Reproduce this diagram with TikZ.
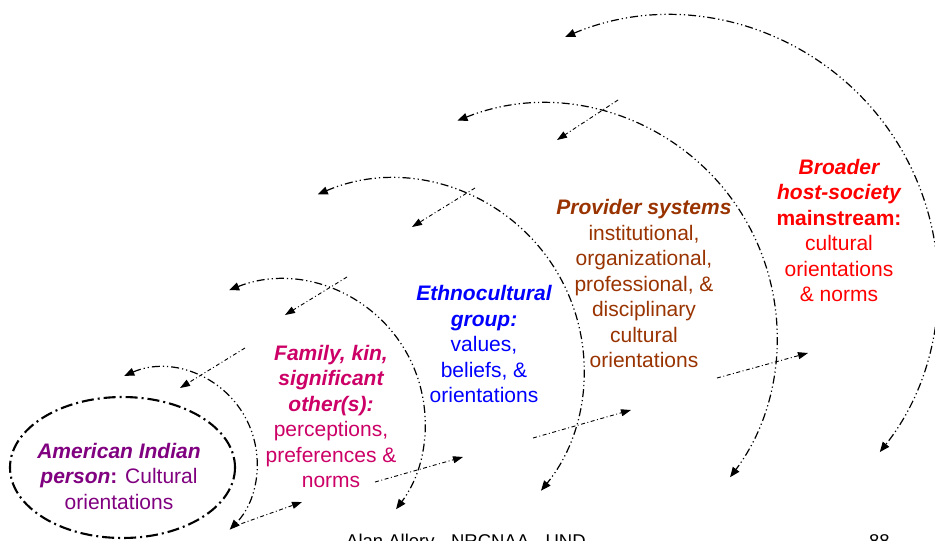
\documentclass[tikz,border=0pt]{standalone}
\usepackage{fontspec}
\setmainfont{Liberation Sans}
\usetikzlibrary{arrows.meta,calc}
\definecolor{amerpurple}{HTML}{800080}
\definecolor{familypink}{HTML}{CC0066}
\definecolor{ethnoblue}{HTML}{0000FF}
\definecolor{providerbrown}{HTML}{993300}
\definecolor{broaderred}{HTML}{FF0000}
\begin{document}
\begin{tikzpicture}[x=1pt,y=-1pt,
  ring/.style={line width=1.2pt, dash pattern=on 8pt off 3pt on 1.2pt off 3pt on 1.2pt off 3pt,
    {Triangle[length=10pt,width=8pt]}-{Triangle[length=10pt,width=8pt]}},
  ellip/.style={line width=2.1pt, dash pattern=on 12pt off 4pt on 2pt off 4pt},
  flow/.style={line width=0.9pt, dash pattern=on 4pt off 2.5pt on 1pt off 2.5pt,
    -{Triangle[length=10pt,width=7pt]}},
  lbl/.style={align=center, font=\fontsize{21}{25.5}\selectfont, inner sep=0pt},
  foot/.style={anchor=base west, font=\fontsize{18.5}{22}\selectfont, inner sep=0pt}]
\clip (0,0) rectangle (935,541);
\fill[white] (0,0) rectangle (935,541);

% centres of the rings
\coordinate (c1) at (162,463);
\coordinate (c2) at (282,423);
\coordinate (c3) at (393,370);
\coordinate (c4) at (544,337);
\coordinate (c5) at (669,285);
\coordinate (r1s) at ($(c1)+(246.6:95)$);
\coordinate (r2s) at ($(c2)+(248.3:143)$);
\coordinate (r3s) at ($(c3)+(246.8:191)$);
\coordinate (r4s) at ($(c4)+(248.2:233)$);
\coordinate (r5s) at ($(c5)+(247.3:269)$);

% person ellipse
\coordinate (ec) at (122.5,467.5);
\draw[ellip] (ec) ellipse[x radius=112.5, y radius=70.5];

% rings (double-headed dash-dot arcs)
\draw[ring] (r1s) arc[start angle=246.6, end angle=404.6, radius=95];
\draw[ring] (r2s) arc[start angle=248.3, end angle=397.1, radius=143];
\draw[ring] (r3s) arc[start angle=246.8, end angle=399.2, radius=191];
\draw[ring] (r4s) arc[start angle=248.2, end angle=397.0, radius=233];
\draw[ring] (r5s) arc[start angle=247.3, end angle=398.4, radius=269];

% inward arrows
\coordinate (i1a) at (245,348); \coordinate (i1b) at (180,388);
\coordinate (i2a) at (347,277); \coordinate (i2b) at (285,315);
\coordinate (i3a) at (475,188); \coordinate (i3b) at (412,227);
\coordinate (i4a) at (618,100); \coordinate (i4b) at (557,140);
\draw[flow] (i1a) -- (i1b);
\draw[flow] (i2a) -- (i2b);
\draw[flow] (i3a) -- (i3b);
\draw[flow] (i4a) -- (i4b);

% outward arrows
\coordinate (o1a) at (232,527); \coordinate (o1b) at (302,502);
\coordinate (o2a) at (375,482); \coordinate (o2b) at (463,457);
\coordinate (o3a) at (533,438); \coordinate (o3b) at (631,410);
\coordinate (o4a) at (717,378); \coordinate (o4b) at (808,353);
\draw[flow] (o1a) -- (o1b);
\draw[flow] (o2a) -- (o2b);
\draw[flow] (o3a) -- (o3b);
\draw[flow] (o4a) -- (o4b);

% labels
\node[lbl, text=amerpurple] (person) at (119,476)
  {{\bfseries\itshape American Indian}\\{\bfseries\itshape person}{\bfseries:} Cultural\\orientations};
\node[lbl, text=familypink] (family) at (331,416.5)
  {{\bfseries\itshape Family, kin,}\\{\bfseries\itshape significant}\\{\bfseries\itshape other(s):}\\perceptions,\\preferences \&\\norms};
\node[lbl, text=ethnoblue] (ethno) at (484,344)
  {{\bfseries\itshape Ethnocultural}\\{\bfseries\itshape group:}\\values,\\beliefs, \&\\orientations};
\node[lbl, text=providerbrown] (provider) at (644,283.5)
  {{\bfseries\itshape Provider systems}\\institutional,\\organizational,\\professional, \&\\disciplinary\\cultural\\orientations};
\node[lbl, text=broaderred] (broader) at (839,230.5)
  {{\bfseries\itshape Broader}\\{\bfseries\itshape host-society}\\{\bfseries mainstream:}\\cultural\\orientations\\\& norms};

% footer (cut off by the page edge, as in the reference)
\node[foot] (author) at (346,547) {Alan Allery - NRCNAA - UND};
\node[foot] (pagenum) at (869,547) {88};
\end{tikzpicture}
\end{document}
